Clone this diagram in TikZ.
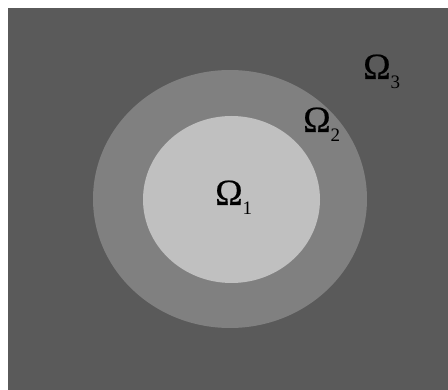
\documentclass[tikz,border=0pt]{standalone}
\usepackage{fontspec}
\setmainfont{Liberation Serif}
\newfontfamily\omegafont[FakeBold=0.5]{Liberation Serif}
\usetikzlibrary{shadows,shapes.geometric}
\definecolor{outerbg}{HTML}{5A5A5A}
\definecolor{ringc}{HTML}{808080}
\definecolor{corec}{HTML}{C0C0C0}
\tikzset{
  lab/.style={inner sep=0pt, text=black, anchor=base west},
}
\newcommand{\OmegaSub}[1]{{\omegafont\fontsize{37}{37}\selectfont Ω}\raisebox{-10pt}{\fontsize{19}{19}\selectfont #1}}
\begin{document}
\begin{tikzpicture}[x=1pt,y=-1pt]
  \useasboundingbox (0,0) rectangle (448,390);
  \fill[white] (0,0) rectangle (448,390);
  \fill[outerbg] (8,8) rectangle (448,390);
  \fill[ringc] (230,199) ellipse [x radius=137, y radius=129];
  \fill[corec, drop shadow={opacity=0.35, shadow xshift=0pt, shadow yshift=-1.5pt}] (231.5,199.5) ellipse [x radius=88.5, y radius=83.5];
  \node[lab] (o1) at (215,205) {\OmegaSub{1}};
  \node[lab] (o2) at (303,132) {\OmegaSub{2}};
  \node[lab] (o3) at (363,79) {\OmegaSub{3}};
\end{tikzpicture}
\end{document}
